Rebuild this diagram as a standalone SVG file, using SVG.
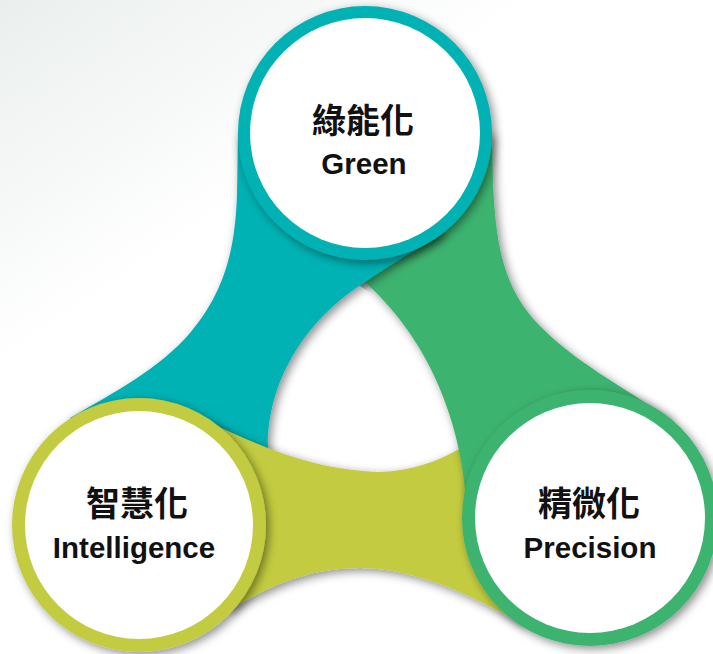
<svg xmlns="http://www.w3.org/2000/svg" width="713" height="654" viewBox="0 0 713 654">
  <defs>
    <linearGradient id="bg" x1="0" y1="0" x2="0.45" y2="0.6">
      <stop offset="0" stop-color="#eaefed"/>
      <stop offset="0.6" stop-color="#ffffff"/>
    </linearGradient>
    <filter id="sh" x="-20%" y="-20%" width="140%" height="140%">
      <feGaussianBlur in="SourceAlpha" stdDeviation="5"/>
      <feOffset dx="3" dy="3" result="b"/>
      <feFlood flood-color="#000" flood-opacity="0.45"/>
      <feComposite in2="b" operator="in"/>
      <feMerge><feMergeNode/><feMergeNode in="SourceGraphic"/></feMerge>
    </filter>
    <clipPath id="tealTop">
      <polygon points="345,276 372,294 458,246 475,238 475,140 345,140"/>
    </clipPath>
    <style>
      .teal{fill:#01b2b4}
      .green{fill:#3eb370}
      .yellow{fill:#c3cc40}
      .inner{fill:#ffffff}
      .cjk{font-family:"Noto Sans CJK TC","Noto Sans CJK SC",sans-serif;font-weight:700;font-size:34px;fill:#111;text-anchor:middle}
      .en{font-family:"Liberation Sans",Arial,sans-serif;font-weight:700;font-size:29.5px;fill:#111;text-anchor:middle}
    </style>
  </defs>
  <rect width="713" height="654" fill="url(#bg)"/>
  <g id="connectors">
    <path id="band-teal" class="teal" filter="url(#sh)" d="M238,133 L237,195 C235,255 222,295 190,333 C160,368 115,392 70,418 L139,525 L268,470 L268,450 C266,400 290,330 365,282 C390,265 415,250 442,234 L365,133 Z"/>
    <path id="band-yellow" class="yellow" filter="url(#sh)" d="M139,525 L212,424 C250,440 300,468 375,472 C420,472 450,455 475,440 L590,518 L522,624 C480,600 420,568 360,568 C310,568 270,585 230,610 Z"/>
    <path id="band-green" class="green" filter="url(#sh)" d="M492,133 L493,183 C496,250 505,290 540,326 C575,362 622,386 670,419 L590,518 L466,500 C462,440 440,350 365,282 L365,133 Z"/>
    <g clip-path="url(#tealTop)">
      <path class="teal" filter="url(#sh)" d="M238,133 L237,195 C235,255 222,295 190,333 C160,368 115,392 70,418 L139,525 L268,470 L268,450 C266,400 290,330 365,282 C390,265 415,250 442,234 L365,133 Z"/>
    </g>
  </g>
  <g id="node-intelligence">
    <circle class="yellow" filter="url(#sh)" cx="139" cy="525" r="127"/>
    <circle class="inner" cx="139" cy="525" r="114"/>
    <text class="cjk" x="137" y="516">智慧化</text>
    <text class="en" x="134" y="558">Intelligence</text>
  </g>
  <g id="node-precision">
    <circle class="green" filter="url(#sh)" cx="590" cy="518" r="128"/>
    <circle class="inner" cx="590" cy="518" r="115"/>
    <text class="cjk" x="589" y="516">精微化</text>
    <text class="en" x="590" y="558">Precision</text>
  </g>
  <g id="node-green">
    <circle class="teal" filter="url(#sh)" cx="365" cy="133" r="127"/>
    <circle class="inner" cx="365" cy="133" r="115"/>
    <text class="cjk" x="363" y="133">綠能化</text>
    <text class="en" x="364" y="174">Green</text>
  </g>
</svg>
